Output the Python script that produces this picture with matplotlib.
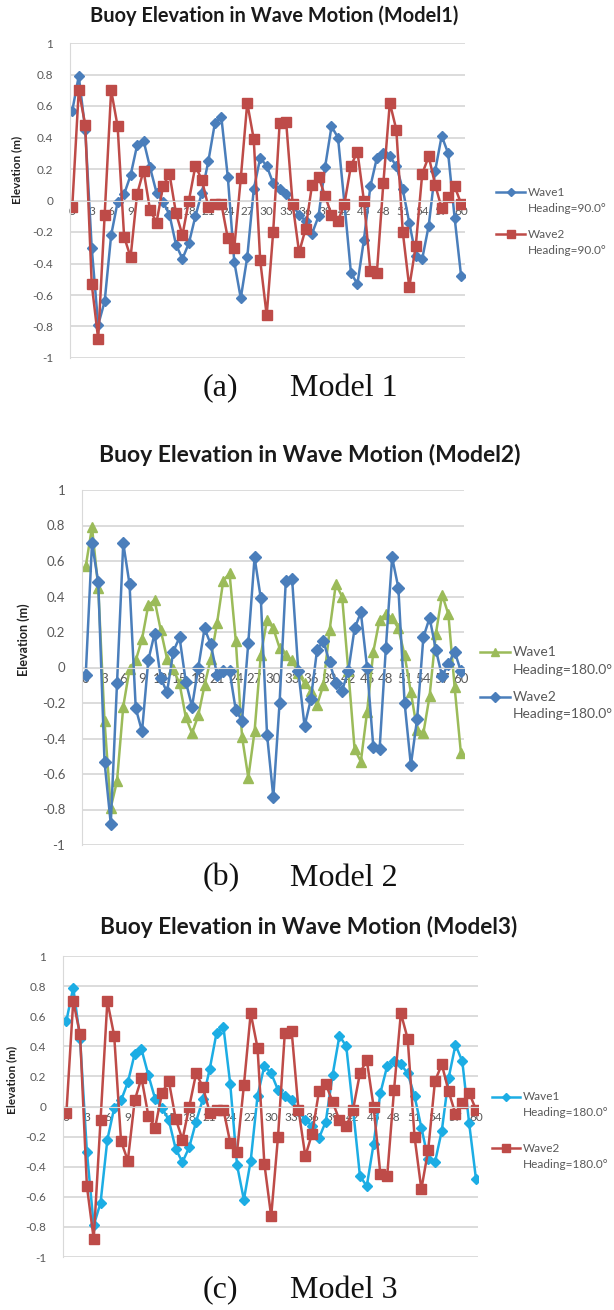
import numpy as np
import matplotlib
matplotlib.use('Agg')
import matplotlib.pyplot as plt
from matplotlib.lines import Line2D

# buoy elevation (m) at time steps 0..60, same two wave records in every model
steps = list(range(61))
wave1 = [0.57, 0.79, 0.45, -0.30, -0.79, -0.64, -0.22, -0.01, 0.04, 0.16,
         0.35, 0.38, 0.21, 0.05, -0.01, -0.09, -0.28, -0.37, -0.27, -0.10,
         0.05, 0.25, 0.49, 0.53, 0.15, -0.39, -0.62, -0.36, 0.07, 0.27,
         0.22, 0.11, 0.07, 0.04, -0.03, -0.09, -0.13, -0.21, -0.10, 0.21,
         0.47, 0.40, -0.02, -0.46, -0.53, -0.25, 0.09, 0.27, 0.30, 0.28,
         0.22, 0.07, -0.14, -0.35, -0.37, -0.16, 0.19, 0.41, 0.30, -0.11, -0.48]
wave2 = [-0.04, 0.70, 0.48, -0.53, -0.88, -0.09, 0.70, 0.47, -0.23, -0.36,
         0.04, 0.19, -0.06, -0.14, 0.09, 0.17, -0.08, -0.22, 0.00, 0.22,
         0.13, -0.04, -0.02, -0.02, -0.24, -0.30, 0.14, 0.62, 0.39, -0.38,
         -0.73, -0.20, 0.49, 0.50, -0.02, -0.33, -0.18, 0.10, 0.15, 0.03,
         -0.09, -0.13, -0.02, 0.22, 0.31, 0.00, -0.45, -0.46, 0.11, 0.62,
         0.45, -0.20, -0.55, -0.29, 0.17, 0.28, 0.10, -0.05, 0.02, 0.09, -0.02]

x_ticks = list(range(0, 61, 3))
y_ticks = [-1, -0.8, -0.6, -0.4, -0.2, 0, 0.2, 0.4, 0.6, 0.8, 1]
titles = ['Buoy Elevation in Wave Motion (Model1)',
          'Buoy Elevation in Wave Motion (Model2)',
          'Buoy Elevation in Wave Motion (Model3)']
headings = ['Heading=90.0°', 'Heading=180.0°', 'Heading=180.0°']
captions = [('(a)', 'Model 1'), ('(b)', 'Model 2'), ('(c)', 'Model 3')]

W, H = 614, 1310
fig = plt.figure(figsize=(W / 100, H / 100), dpi=100)
plt.rcParams['font.family'] = ['Lato', 'DejaVu Sans']

grid_c = '#d9d9d9'
txt_c = '#595959'

# pixel layout of each panel: plot box, xlim, title, legend, caption
panels = [
    dict(box=(70, 43, 465, 358), xlim=(-0.35, 60.6), title=(274, 16, 14.4),
         ylab=(17, 170, 8.5), leg=(496, 525, 528, 192, 209, 234, 250, 8.5),
         tick=8.5,
         s1=dict(color='#4a7ebb', marker='D', ms=5),
         s2=dict(color='#be4b48', marker='s', ms=7), cap=388),
    dict(box=(82, 490, 464, 845), xlim=(-0.6, 60.5), title=(310, 455, 16.5),
         ylab=(24, 640, 9), leg=(480, 510, 513, 652, 670, 697, 714, 10),
         tick=9.5,
         s1=dict(color='#9bbb59', marker='^', ms=7),
         s2=dict(color='#4a7ebb', marker='D', ms=6), cap=878),
    dict(box=(63, 956, 478, 1257), xlim=(-0.5, 60.3), title=(309, 927, 16.3),
         ylab=(12, 1080, 8.5), leg=(492, 520, 523, 1097, 1113, 1148, 1165, 8.5),
         tick=8.5,
         s1=dict(color='#1cade4', marker='D', ms=5.5),
         s2=dict(color='#be4b48', marker='s', ms=7.5), cap=1290),
]

for i, p in enumerate(panels):
    l, t, r, b = p['box']
    ax = fig.add_axes([l / W, 1 - b / H, (r - l) / W, (b - t) / H])
    ax.plot(steps, wave1, lw=1.8, **p['s1'])
    ax.plot(steps, wave2, lw=1.8, **p['s2'])
    ax.set_xlim(*p['xlim'])
    ax.set_ylim(-1, 1)
    ax.set_yticks(y_ticks)
    ax.set_yticklabels(['%g' % v for v in y_ticks])
    ax.set_xticks(x_ticks)
    ax.yaxis.grid(True, color=grid_c, lw=1.3)
    ax.set_axisbelow(True)
    for s in ['top', 'right']:
        ax.spines[s].set_visible(False)
    ax.spines['bottom'].set_position(('data', 0))
    ax.spines['bottom'].set_color(grid_c)
    ax.spines['left'].set_color(grid_c)
    ax.tick_params(axis='both', length=0, labelsize=p['tick'], colors=txt_c)
    ax.tick_params(axis='y', pad=12)
    ax.tick_params(axis='x', pad=4)

    tx, ty, tsize = p['title']
    fig.text(tx / W, 1 - ty / H, titles[i], ha='center', va='center',
             fontsize=tsize, fontweight='bold', color='#1a1a1a')
    yx, yy, ysize = p['ylab']
    fig.text(yx / W, 1 - yy / H, 'Elevation (m)', rotation=90, ha='center',
             va='center', fontsize=ysize, fontweight='bold', color='#222222')

    # legend drawn by hand so the marker sits on the first text line
    x1, x2, xt, ya, ha_, yb, hb, lsize = p['leg']
    for st, yy_, yh, name in [(p['s1'], ya, ha_, 'Wave1'),
                              (p['s2'], yb, hb, 'Wave2')]:
        fig.add_artist(Line2D([x1 / W, (x1 + x2) / 2 / W, x2 / W],
                              [1 - yy_ / H] * 3,
                              lw=1.8, color=st['color'], marker=st['marker'],
                              ms=st['ms'] * 0.8, markevery=[1],
                              transform=fig.transFigure))
        fig.text(xt / W, 1 - yy_ / H, name, ha='left', va='center',
                 fontsize=lsize, color=txt_c)
        fig.text(xt / W, 1 - yh / H, headings[i], ha='left',
                 va='center', fontsize=lsize, color=txt_c)

    a, m = captions[i]
    fig.text(203 / W, 1 - p['cap'] / H, a, ha='left', va='center',
             fontsize=23, family='Liberation Serif', color='#111111')
    fig.text(290 / W, 1 - p['cap'] / H, m, ha='left', va='center',
             fontsize=23, family='Liberation Serif', color='#111111')

fig.savefig('out.png', dpi=100)
